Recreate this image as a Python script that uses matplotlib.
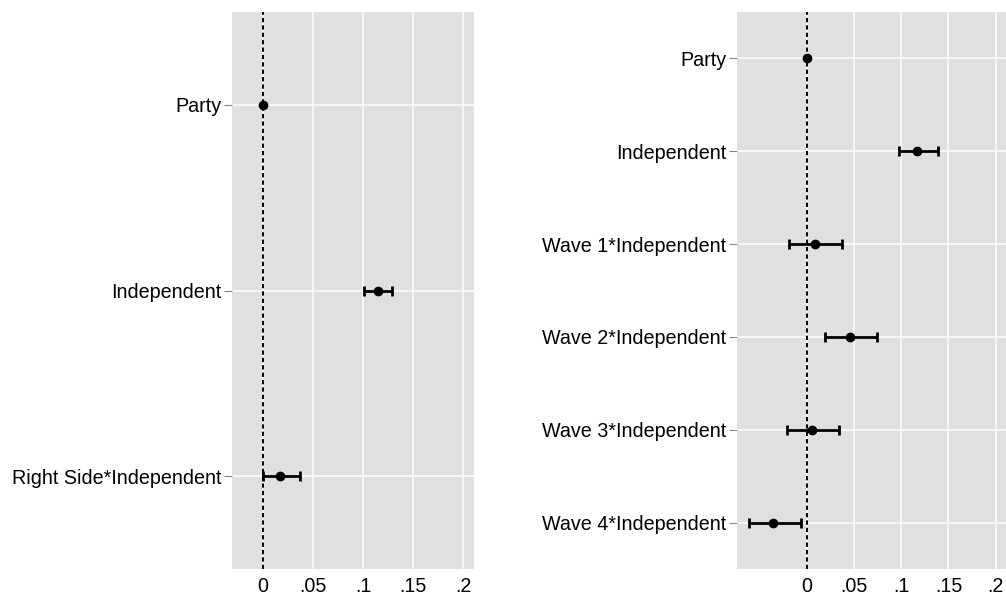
import matplotlib.pyplot as plt
import numpy as np

plt.rcParams['font.family'] = ['Liberation Sans', 'DejaVu Sans']

# left panel
left_labels = ['Party', 'Independent', 'Right Side*Independent']
left_est = [0.0, 0.115, 0.0175]
left_lo = [0.0, 0.101, 0.0]
left_hi = [0.0, 0.129, 0.0375]

# right panel
right_labels = ['Party', 'Independent', 'Wave 1*Independent', 'Wave 2*Independent',
                'Wave 3*Independent', 'Wave 4*Independent']
right_est = [0.0, 0.117, 0.0085, 0.046, 0.0056, -0.0357]
right_lo = [0.0, 0.098, -0.0187, 0.019, -0.0212, -0.0618]
right_hi = [0.0, 0.139, 0.0374, 0.0745, 0.0342, -0.0067]

xticks = [0, 0.05, 0.1, 0.15, 0.2]
xticklabels = ['0', '.05', '.1', '.15', '.2']

fig = plt.figure(figsize=(10.06, 6.02), dpi=100)
ax1 = fig.add_axes([0.2306, 0.0548, 0.2406, 0.9252])
ax2 = fig.add_axes([0.7323, 0.0548, 0.2677, 0.9252])


def coef_panel(ax, labels, est, lo, hi, xlim):
    n = len(labels)
    y = np.arange(n)
    est = np.array(est)
    err = np.vstack([est - np.array(lo), np.array(hi) - est])
    ax.set_facecolor('#e0e0e0')
    ax.axvline(0, color='black', linestyle=(0, (2.2, 1.6)), linewidth=1.4, zorder=2)
    has_ci = err.sum(axis=0) > 0
    ax.errorbar(est[has_ci], y[has_ci], xerr=err[:, has_ci], fmt='none', ecolor='black',
                elinewidth=2, capsize=3.5, capthick=2, zorder=3)
    ax.plot(est, y, 'o', color='black', markersize=6, zorder=4)
    ax.set_yticks(y)
    ax.set_yticklabels(labels, fontsize=14.2)
    ax.set_xticks(xticks)
    ax.set_xticklabels(xticklabels, fontsize=14.2)
    ax.set_xlim(*xlim)
    ax.set_ylim(n - 0.5, -0.5)
    ax.grid(True, color='white', linewidth=1.1)
    ax.set_axisbelow(True)
    for s in ax.spines.values():
        s.set_visible(False)
    ax.tick_params(axis='y', length=5.5, width=0.8, color='#888888', pad=2)
    ax.tick_params(axis='x', length=0, pad=6)


coef_panel(ax1, left_labels, left_est, left_lo, left_hi, (-0.0306, 0.2105))
coef_panel(ax2, right_labels, right_est, right_lo, right_hi, (-0.0745, 0.211))

fig.savefig('out.png', dpi=100)
